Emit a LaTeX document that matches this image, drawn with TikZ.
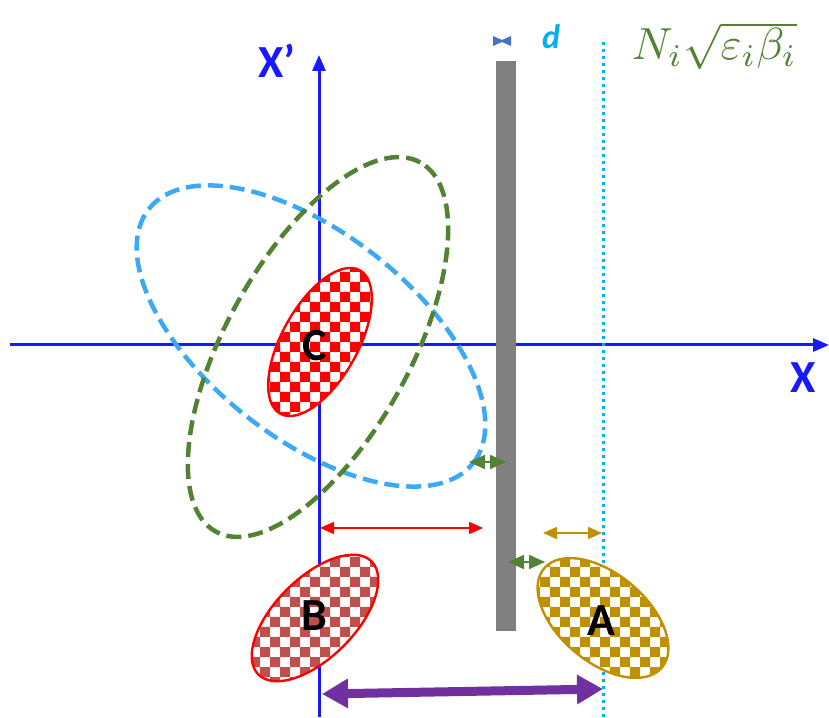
\documentclass[tikz,border=0pt]{standalone}
\usepackage{fontspec}
\setmainfont{Carlito}
\usetikzlibrary{arrows.meta}
\definecolor{axisblue}{RGB}{25,25,255}
\definecolor{beamblue}{RGB}{59,169,245}
\definecolor{dgreen}{RGB}{84,130,53}
\definecolor{dgold}{RGB}{191,144,0}
\definecolor{dpurple}{RGB}{112,48,160}
\definecolor{dcyan}{RGB}{0,176,240}
\definecolor{tieblue}{RGB}{68,114,196}
\definecolor{brick}{RGB}{192,80,77}
% checker cells inside the current clip
\newcommand{\cellfill}[5]{%
  \foreach \x in {#2,...,#3}
    \foreach \y in {#4,...,#5}
      \fill[#1] (\x,\y) rectangle ++(10,10) (\x+10,\y+10) rectangle ++(10,10);}
\begin{document}
\begin{tikzpicture}[x=1pt,y=1pt,
  lbl/.style={font=\fontsize{46}{46}\selectfont\bfseries, inner sep=0pt},
  axis/.style={axisblue, line width=3pt, -{Triangle[length=16pt,width=13pt]}},
  envelope/.style={line width=4.5pt, dash pattern=on 15pt off 7pt},
  rim/.style={line width=2.4pt},
  gap/.style={dgreen, line width=2pt,
    {Triangle[length=16pt,width=14pt]}-{Triangle[length=16pt,width=14pt]}},
  span/.style={line width=1.5pt,
    {Triangle[length=14pt,width=12pt]}-{Triangle[length=14pt,width=12pt]}}]
  \useasboundingbox (0,0) rectangle (829,717);
  % Phase-space axes
  \coordinate (xl) at (10,372);
  \coordinate (xr) at (829,372);
  \coordinate (yb) at (319,0);
  \coordinate (yt) at (319,662);
  \draw[axis] (xl) -- (xr);
  \draw[axis] (yb) -- (yt);
  \node[lbl, axisblue] (xplab) at (277,656) {X’};
  \node[lbl, axisblue] (xlab) at (803,339) {X};
  % Septum blade and aperture edge
  \fill[gray] (496,86) rectangle (516,656);
  \fill[tieblue] (493,671) -- (502,675) -- (511,671) -- (511,681)
    -- (502,677) -- (493,681) -- cycle;
  \node[font=\fontsize{34}{34}\selectfont\bfseries\itshape, text=dcyan,
    inner sep=0pt] (dlab) at (551,680) {d};
  \coordinate (edgeb) at (603,0);
  \coordinate (edget) at (603,679);
  \draw[dcyan, line width=3pt, dash pattern=on 3pt off 4pt] (edgeb) -- (edget);
  \node[dgreen, scale=4.5, inner sep=0pt, anchor=base west] (emit)
    at (631,657) {$N_i\sqrt{\varepsilon_i\beta_i}$};
  % Beam envelopes
  \draw[envelope, beamblue, rotate around={-38:(311,381)}]
    (311,381) ellipse [x radius=206, y radius=103];
  \draw[envelope, dgreen, rotate around={61:(318,370)}]
    (318,370) ellipse [x radius=211, y radius=92];
  % Bunch C
  \begin{scope}
    \clip[rotate around={61:(320,375)}]
      (320,375) ellipse [x radius=82, y radius=38];
    \fill[white] (230,285) rectangle (420,470);
    \cellfill{red}{230,250}{410}{285,305}{465}
  \end{scope}
  \draw[rim, red, rotate around={61:(320,375)}]
    (320,375) ellipse [x radius=82, y radius=38];
  \node[lbl] (clab) at (315,371) {C};
  % Bunch B
  \begin{scope}
    \clip[rotate around={45:(315,99)}]
      (315,99) ellipse [x radius=80, y radius=40];
    \fill[white] (230,10) rectangle (400,190);
    \cellfill{brick}{230,250}{390}{10,30}{190}
  \end{scope}
  \draw[rim, red, rotate around={45:(315,99)}]
    (315,99) ellipse [x radius=80, y radius=40];
  \node[lbl] (blab) at (314,101) {B};
  % Bunch A
  \begin{scope}
    \clip[rotate around={-40:(603,99)}]
      (603,99) ellipse [x radius=77, y radius=44];
    \fill[white] (520,10) rectangle (690,190);
    \cellfill{dgold}{520,540}{680}{10,30}{190}
  \end{scope}
  \draw[rim, dgold, rotate around={-40:(603,99)}]
    (603,99) ellipse [x radius=77, y radius=44];
  \node[lbl] (alab) at (601,96) {A};
  % Distances
  \coordinate (g1a) at (469,255);
  \coordinate (g1b) at (506,255);
  \draw[gap] (g1a) -- (g1b);
  \coordinate (g2a) at (508,155);
  \coordinate (g2b) at (545,155);
  \draw[gap] (g2a) -- (g2b);
  \coordinate (ra) at (320,189);
  \coordinate (rb) at (483,189);
  \draw[span, red] (ra) -- (rb);
  \coordinate (ka) at (543,184);
  \coordinate (kb) at (602,184);
  \draw[span, dgold] (ka) -- (kb);
  \coordinate (pa) at (322,23);
  \coordinate (pb) at (603,28);
  \draw[dpurple, line width=9pt,
    {Triangle[length=26pt,width=28pt]}-{Triangle[length=26pt,width=28pt]}]
    (pa) -- (pb);
\end{tikzpicture}
\end{document}
